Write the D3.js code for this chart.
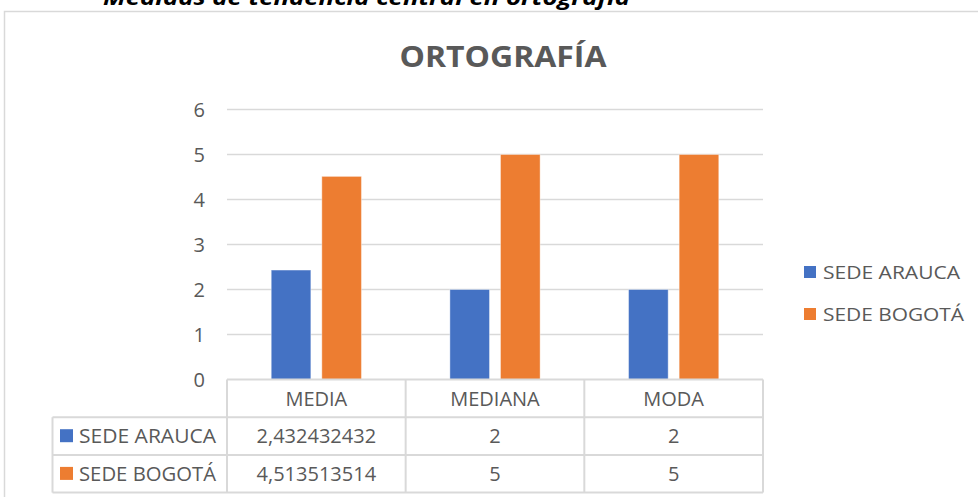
<!DOCTYPE html>
<html>
<head>
<meta charset="utf-8">
<script src="https://cdn.jsdelivr.net/npm/d3@7"></script>
<style>
  body { margin: 0; background: #fff; }
  svg text { font-family: "Open Sans", "Liberation Sans", sans-serif; }
</style>
</head>
<body>
<svg id="chart"></svg>
<script>
var categories = ["MEDIA", "MEDIANA", "MODA"];
var seriesNames = ["SEDE ARAUCA", "SEDE BOGOTÁ"];
var arauca = [2.432432432, 2, 2];
var bogota = [4.513513514, 5, 5];
var tableArauca = ["2,432432432", "2", "2"];
var tableBogota = ["4,513513514", "5", "5"];
var yTicks = [0, 1, 2, 3, 4, 5, 6];
var colors = ["#4472C4", "#ED7D31"];

var width = 978, height = 497;
var svg = d3.select("#chart").attr("width", width).attr("height", height);

// plot area (window.top is reserved, so plotTop)
var plotLeft = 227, plotRight = 763, plotTop = 109.5, plotBottom = 379.5;
var rowH = 37.7;

// subtitle cut at top
svg.append("text")
    .attr("x", 103)
    .attr("y", 5)
    .attr("font-size", 22)
    .attr("font-weight", "bold")
    .attr("font-style", "italic")
    .attr("fill", "#000")
    .attr("textLength", 527)
    .attr("lengthAdjust", "spacingAndGlyphs")
    .text("Medidas de tendencia central en ortografía");

// chart frame
svg.append("rect")
    .attr("x", 4.5)
    .attr("y", 11.5)
    .attr("width", 980)
    .attr("height", 500)
    .attr("fill", "white")
    .attr("stroke", "#D9D9D9")
    .attr("stroke-width", 1.5);

svg.append("text")
    .attr("x", 503)
    .attr("y", 67)
    .attr("text-anchor", "middle")
    .attr("font-size", 29)
    .attr("font-weight", "bold")
    .attr("fill", "#595959")
    .attr("textLength", 207)
    .attr("lengthAdjust", "spacingAndGlyphs")
    .text("ORTOGRAFÍA");

var x = d3.scaleBand().domain(categories).range([plotLeft, plotRight]);
var y = d3.scaleLinear().domain([0, 6]).range([plotBottom, plotTop]);
var xs = d3.scaleBand().domain(seriesNames).range([0, x.bandwidth()]).paddingInner(0.217).paddingOuter(0.874);

// gridlines
svg.append("g").selectAll("line")
    .data(yTicks.filter(function(d){ return d > 0; }))
  .enter().append("line")
    .attr("x1", plotLeft).attr("x2", plotRight)
    .attr("y1", function(d){ return y(d); })
    .attr("y2", function(d){ return y(d); })
    .attr("stroke", "#D9D9D9")
    .attr("stroke-width", 1.3);

svg.append("g").selectAll("text")
    .data(yTicks)
  .enter().append("text")
    .attr("x", 205)
    .attr("y", function(d){ return y(d) + 7; })
    .attr("text-anchor", "end")
    .attr("font-size", 20)
    .attr("fill", "#595959")
    .text(function(d){ return d; });

var series = [arauca, bogota];
series.forEach(function(vals, si){
  svg.append("g").selectAll("rect")
      .data(vals)
    .enter().append("rect")
      .attr("x", function(d, i){ return x(categories[i]) + xs(seriesNames[si]); })
      .attr("y", function(d){ return y(d); })
      .attr("width", xs.bandwidth())
      .attr("height", function(d){ return plotBottom - y(d); })
      .attr("fill", colors[si])
      .attr("stroke", "#ffffff")
      .attr("stroke-opacity", 0.4)
      .attr("stroke-width", 1);
});

// data table
var tg = svg.append("g");
var gridColor = "#D9D9D9";
var tableLeft = 52.5;
var rows = [plotBottom, plotBottom + rowH, plotBottom + 2 * rowH, plotBottom + 3 * rowH];

tg.append("line").attr("x1", plotLeft).attr("x2", plotRight).attr("y1", plotBottom).attr("y2", plotBottom)
    .attr("stroke", gridColor).attr("stroke-width", 2);
[1, 2, 3].forEach(function(r){
  tg.append("line").attr("x1", tableLeft).attr("x2", plotRight)
      .attr("y1", rows[r]).attr("y2", rows[r])
      .attr("stroke", gridColor).attr("stroke-width", 2);
});
tg.append("line").attr("x1", tableLeft).attr("x2", tableLeft)
    .attr("y1", rows[1]).attr("y2", rows[3])
    .attr("stroke", gridColor).attr("stroke-width", 2);
categories.forEach(function(c){
  tg.append("line").attr("x1", x(c)).attr("x2", x(c))
      .attr("y1", plotBottom).attr("y2", rows[3])
      .attr("stroke", gridColor).attr("stroke-width", 2);
});
tg.append("line").attr("x1", plotRight).attr("x2", plotRight)
    .attr("y1", plotBottom).attr("y2", rows[3])
    .attr("stroke", gridColor).attr("stroke-width", 2);

tg.selectAll("text.cat")
    .data(categories)
  .enter().append("text")
    .attr("x", function(d){ return x(d) + x.bandwidth() / 2; })
    .attr("y", plotBottom + 26)
    .attr("text-anchor", "middle")
    .attr("font-size", 20)
    .attr("fill", "#595959")
    .text(function(d){ return d; });

[tableArauca, tableBogota].forEach(function(vals, si){
  var ry = rows[si + 1];
  tg.append("rect")
      .attr("x", 60).attr("y", ry + 12)
      .attr("width", 13).attr("height", 13)
      .attr("fill", colors[si]);
  tg.append("text")
      .attr("x", 79).attr("y", ry + 26)
      .attr("font-size", 20)
      .attr("fill", "#595959")
      .attr("textLength", 137)
      .attr("lengthAdjust", "spacingAndGlyphs")
      .text(seriesNames[si]);
  tg.selectAll("text.v" + si)
      .data(vals)
    .enter().append("text")
      .attr("x", function(d, i){ return x(categories[i]) + x.bandwidth() / 2; })
      .attr("y", ry + 26)
      .attr("text-anchor", "middle")
      .attr("font-size", 20)
      .attr("fill", "#595959")
      .text(function(d){ return d; });
});

// legend
var lg = svg.append("g");
seriesNames.forEach(function(n, i){
  var ly = 266 + i * 42;
  lg.append("rect")
      .attr("x", 804).attr("y", ly)
      .attr("width", 12).attr("height", 12)
      .attr("fill", colors[i]);
  lg.append("text")
      .attr("x", 823).attr("y", ly + 13)
      .attr("font-size", 19)
      .attr("fill", "#595959")
      .attr("textLength", i === 0 ? 137 : 141)
      .attr("lengthAdjust", "spacingAndGlyphs")
      .text(n);
});
</script>
</body>
</html>
